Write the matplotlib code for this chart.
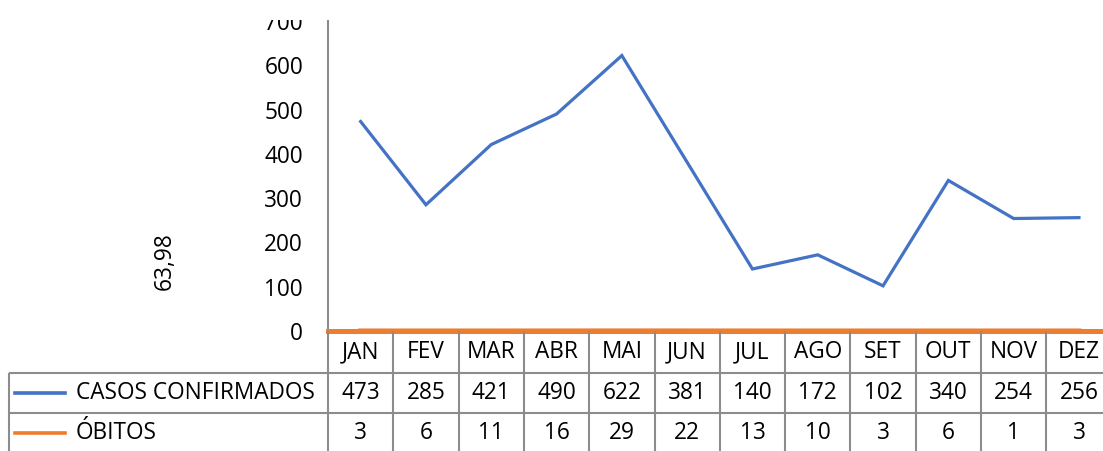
import matplotlib.pyplot as plt
from matplotlib.transforms import Bbox, TransformedBbox
import numpy as np

plt.rcParams['font.family'] = ['Open Sans', 'DejaVu Sans']

meses = ['JAN', 'FEV', 'MAR', 'ABR', 'MAI', 'JUN', 'JUL', 'AGO', 'SET', 'OUT', 'NOV', 'DEZ']
casos = [473, 285, 421, 490, 622, 381, 140, 172, 102, 340, 254, 256]
obitos = [3, 6, 11, 16, 29, 22, 13, 10, 3, 6, 1, 3]
series_names = ['CASOS CONFIRMADOS', 'ÓBITOS']
yticks = [0, 100, 200, 300, 400, 500, 600, 700]
ylabel = '63,98'

BLUE = '#4472C4'
ORANGE = '#ED7D31'
GRID = '#8C8C8C'
FS = 16.3

W, H = 1103, 451
fig = plt.figure(figsize=(W / 100, H / 100), dpi=100)

# plot area in pixels (column grid is wider than the figure, right side clipped)
x0, x1 = 328, 328 + 12 * 65.3
ytop, ybot = 21, 331
ax = fig.add_axes([x0 / W, 1 - ybot / H, (x1 - x0) / W, (ybot - ytop) / H])
x = np.arange(len(meses)) + 0.5
ax.plot(x, casos, color=BLUE, lw=2.3, solid_joinstyle='miter')
ax.set_xlim(0, 12)
ax.set_ylim(0, 700)
ax.set_yticks(yticks)
ax.tick_params(axis='y', length=0, labelsize=FS, pad=18)
ax.set_xticks([])
for s in ['top', 'right']:
    ax.spines[s].set_visible(False)
ax.spines['left'].set_color(GRID)
ax.spines['left'].set_linewidth(1.5)
ax.spines['left'].set_bounds(0, 700)
ax.spines['bottom'].set_color(ORANGE)
ax.spines['bottom'].set_linewidth(3.6)
ax.spines['bottom'].set_zorder(5)

# the chart is cropped at the top, cutting the 700 label
clip = TransformedBbox(Bbox([[0, 0], [1, 1 - 20 / H]]), fig.transFigure)
for lbl in ax.get_yticklabels():
    lbl.set_clip_box(clip)
    lbl.set_clip_on(True)

# obitos on a secondary scale, flat along the base
ax2 = ax.twinx()
ax2.plot(x, obitos, color=ORANGE, lw=3.6)
ax2.set_ylim(0, 1e5)
ax2.axis('off')

fig.text(165 / W, 1 - 261 / H, ylabel, rotation=90, ha='center', va='center', fontsize=FS)

# data table below the axis
tab = fig.add_axes([0, 0, 1, 1])
tab.set_xlim(0, W)
tab.set_ylim(H, 0)
tab.axis('off')
tab.patch.set_alpha(0)
colw = (x1 - x0) / 12
rows = [331, 373, 413, 455]
lx = 9
kw = dict(color=GRID, lw=1.5, solid_capstyle='butt')
for i in range(13):
    xc = x0 + i * colw
    tab.plot([xc, xc], [rows[0], H + 5], **kw)
tab.plot([lx, lx], [rows[1], H + 5], **kw)
for r in rows[1:3]:
    tab.plot([lx, x1], [r, r], **kw)
for i, m in enumerate(meses):
    cx = x0 + (i + 0.5) * colw
    tab.text(cx, (rows[0] + rows[1]) / 2, m, ha='center', va='center', fontsize=FS)
    tab.text(cx, (rows[1] + rows[2]) / 2, str(casos[i]), ha='center', va='center', fontsize=FS)
    tab.text(cx, (rows[2] + rows[3]) / 2 - 1, str(obitos[i]), ha='center', va='center', fontsize=FS)
for j, (name, c) in enumerate(zip(series_names, [BLUE, ORANGE])):
    cy = (rows[j + 1] + rows[j + 2]) / 2 - (1 if j else 0)
    tab.plot([15, 65], [cy, cy], color=c, lw=2.6)
    tab.text(76, cy, name, ha='left', va='center', fontsize=FS)

fig.savefig('out.png', dpi=100)
